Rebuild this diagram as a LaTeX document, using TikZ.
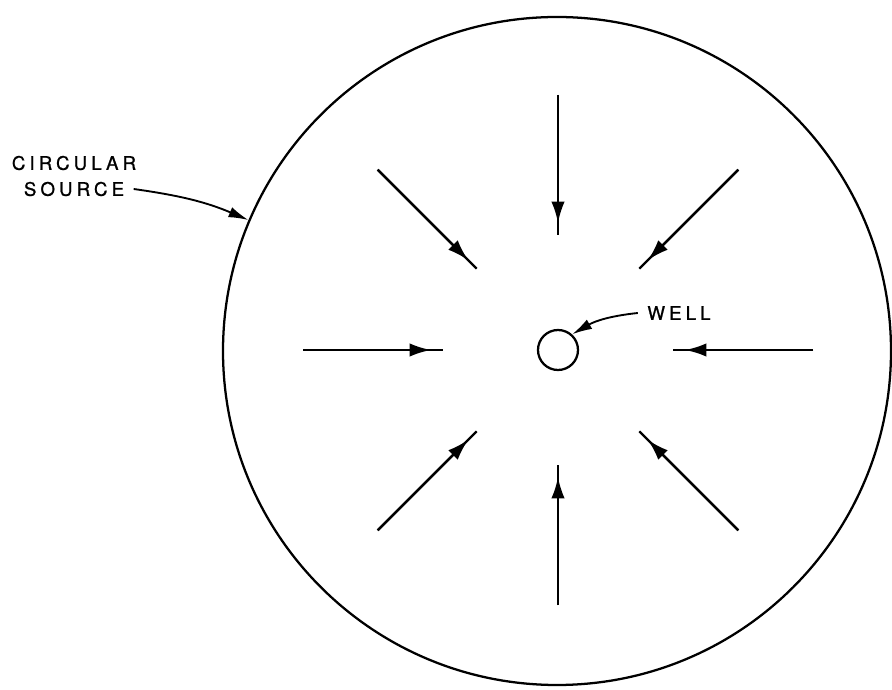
\documentclass[tikz,border=0pt]{standalone}
\usepackage{fontspec}
\usepackage{tikz}
\usetikzlibrary{
arrows.meta,
positioning
}
\newfontfamily\leroyfont{TeX Gyre Heros}[LetterSpace=22,FakeBold=1]

\begin{document}
\begin{tikzpicture}[
    x=0.75pt,
    y=0.75pt,
    font=\leroyfont\fontsize{14}{16}\selectfont,
    >=Latex,
    flowline/.style={line width=1.7pt},
    flowhead/.style={line width=1.7pt, -{Latex[length=16pt,width=10pt]}},
    leader/.style={line width=1.4pt, -{Latex[length=15pt,width=8pt]}},
    lbl/.style={inner sep=7pt}
]

% =====================================================
% PAGE FRAME
% =====================================================
\useasboundingbox (0,0) rectangle (892,689);

% =====================================================
% CIRCULAR SOURCE
% =====================================================
\node[
    draw,
    circle,
    line width=1.7pt,
    minimum size=501pt,
    inner sep=0pt
]
(source)
at (557,338)
{};

% =====================================================
% WELL
% =====================================================
\node[
    draw,
    circle,
    line width=1.7pt,
    minimum size=30pt,
    inner sep=0pt
]
(well)
at (558,339)
{};

% =====================================================
% RADIAL FLOW ARROWS
% =====================================================
\foreach \ang in {0,45,...,315}{
    % shaft
    \draw[flowline]
    ([shift={(\ang:255)}]well.center) -- ([shift={(\ang:115)}]well.center);

    % head
    \draw[flowhead]
    ([shift={(\ang:255)}]well.center) -- ([shift={(\ang:127)}]well.center);
}

% =====================================================
% LABELS
% =====================================================
\node[lbl] (circ) at (74,526) {CIRCULAR};
\node[lbl] (src) at (74,500) {SOURCE};

\node[lbl] (welllbl) at (679,376) {WELL};

% Leaders
\draw[leader]
(src.east) to[out=-8,in=157] (source.157);

\draw[leader]
(welllbl.west) to[out=186,in=30] (well.48);

\end{tikzpicture}
\end{document}
